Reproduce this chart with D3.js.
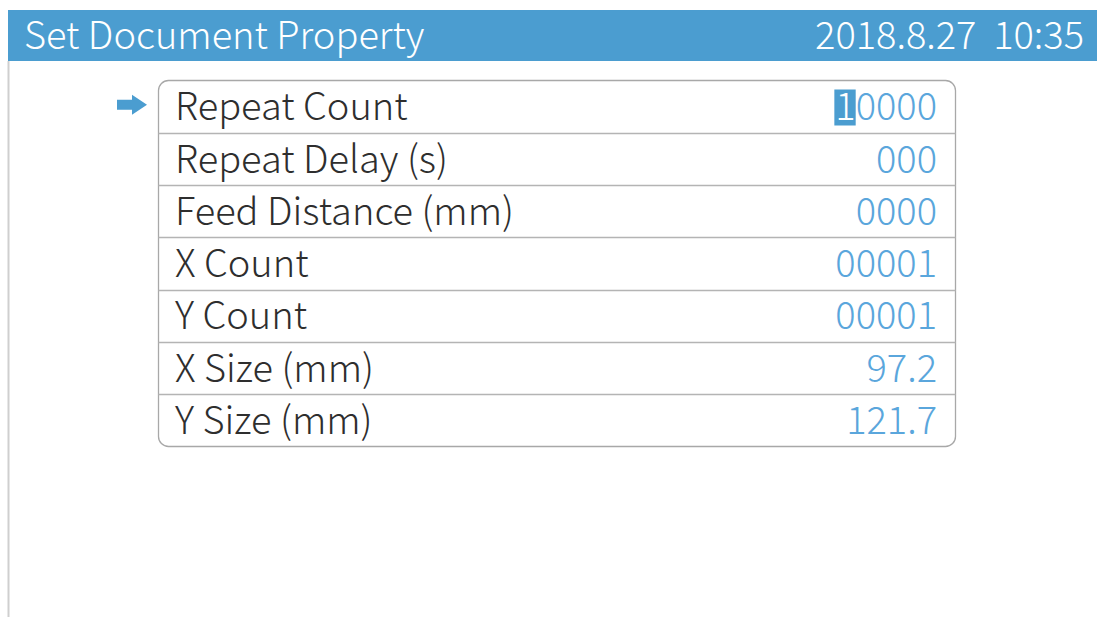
<!DOCTYPE html>
<html>
<head>
<meta charset="utf-8">
<script src="https://cdn.jsdelivr.net/npm/d3@7"></script>
<style>
	body { margin: 0; background: #fff; }
	svg { display: block; }
</style>
</head>
<body>
<svg id="screen"></svg>
<script>
const title = "Set Document Property";
const dateTime = "2018.8.27  10:35";
const labels = ["Repeat Count", "Repeat Delay (s)", "Feed Distance (mm)", "X Count", "Y Count", "X Size (mm)", "Y Size (mm)"];
const values = ["10000", "000", "0000", "00001", "00001", "97.2", "121.7"];
const selectedRow = 0;

const w = 1097, h = 619;
const font = "'Noto Sans CJK SC', Lato, sans-serif";
const fsize = "38px";
const blue = "#4b9dd0";
const valueBlue = "#5aa6dc";

let svg = d3.select("#screen")
	.attr("width", w)
	.attr("height", h);

// header bar
svg.append("rect")
	.attr("x", 8).attr("y", 10)
	.attr("width", w - 8).attr("height", 51)
	.attr("fill", blue);

svg.append("text")
	.text(title)
	.attr("x", 24).attr("y", 49)
	.attr("font-family", font)
	.attr("font-weight", 300)
	.attr("font-size", fsize)
	.attr("fill", "#fff");

svg.append("text")
	.text(dateTime)
	.attr("x", 1084).attr("y", 49)
	.attr("text-anchor", "end")
	.attr("font-family", font)
	.attr("font-weight", 300)
	.attr("font-size", fsize)
	.attr("fill", "#fff")
	.style("white-space", "pre");

// left edge line
svg.append("line")
	.attr("x1", 8.5).attr("x2", 8.5)
	.attr("y1", 61).attr("y2", 617)
	.attr("stroke", "#cfcfcf")
	.attr("stroke-width", 2);

// table
let x0 = 158.5, x1 = 955.5;
let y = d3.scaleBand()
	.domain(labels)
	.range([80.5, 446.5]);

svg.append("rect")
	.attr("x", x0).attr("y", y.range()[0])
	.attr("width", x1 - x0).attr("height", y.range()[1] - y.range()[0])
	.attr("rx", 10).attr("ry", 10)
	.attr("fill", "none")
	.attr("stroke", "#a8a8a8")
	.attr("stroke-width", 1.3);

svg.append("g")
	.selectAll("line")
	.data(labels.slice(1))
	.enter()
	.append("line")
	.attr("x1", x0).attr("x2", x1)
	.attr("y1", d => Math.round(y(d)) + 0.5)
	.attr("y2", d => Math.round(y(d)) + 0.5)
	.attr("stroke", "#b4b4b4")
	.attr("stroke-width", 1.3);

// selection highlight on first digit
let sel = labels[selectedRow];
let selText = svg.append("text")
	.text(values[selectedRow])
	.attr("x", 937)
	.attr("y", y(sel) + y.bandwidth() / 2)
	.attr("dy", "0.36em")
	.attr("text-anchor", "end")
	.attr("font-family", font)
	.attr("font-weight", 300)
	.attr("font-size", fsize)
	.attr("fill", "none");
let charBox = selText.node().getExtentOfChar(0);
selText.remove();
svg.append("rect")
	.attr("x", charBox.x - 1)
	.attr("y", y(sel) + 9)
	.attr("width", charBox.width + 1)
	.attr("height", 36)
	.attr("fill", blue);

svg.append("g")
	.selectAll("text")
	.data(labels)
	.enter()
	.append("text")
	.text(d => d)
	.attr("x", 175)
	.attr("y", d => y(d) + y.bandwidth() / 2)
	.attr("dy", "0.36em")
	.attr("font-family", font)
	.attr("font-weight", 300)
	.attr("font-size", fsize)
	.attr("fill", "#2e2e2e");

let vals = svg.append("g")
	.selectAll("text")
	.data(values)
	.enter()
	.append("text")
	.attr("x", 937)
	.attr("y", (d, i) => y(labels[i]) + y.bandwidth() / 2)
	.attr("dy", "0.36em")
	.attr("text-anchor", "end")
	.attr("font-family", font)
	.attr("font-weight", 300)
	.attr("font-size", fsize)
	.attr("fill", valueBlue);

vals.each(function(d, i) {
	let t = d3.select(this);
	if (i === selectedRow) {
		t.append("tspan").text(d[0]).attr("fill", "#fff");
		t.append("tspan").text(d.slice(1));
	} else {
		t.text(d);
	}
});

// arrow pointer
let ay = y(sel) + y.bandwidth() / 2 - 2;
svg.append("path")
	.attr("d", d3.line()([[117, ay - 5], [132, ay - 5], [132, ay - 10], [147, ay], [132, ay + 10], [132, ay + 5], [117, ay + 5]]) + "Z")
	.attr("fill", blue);
</script>
</body>
</html>
